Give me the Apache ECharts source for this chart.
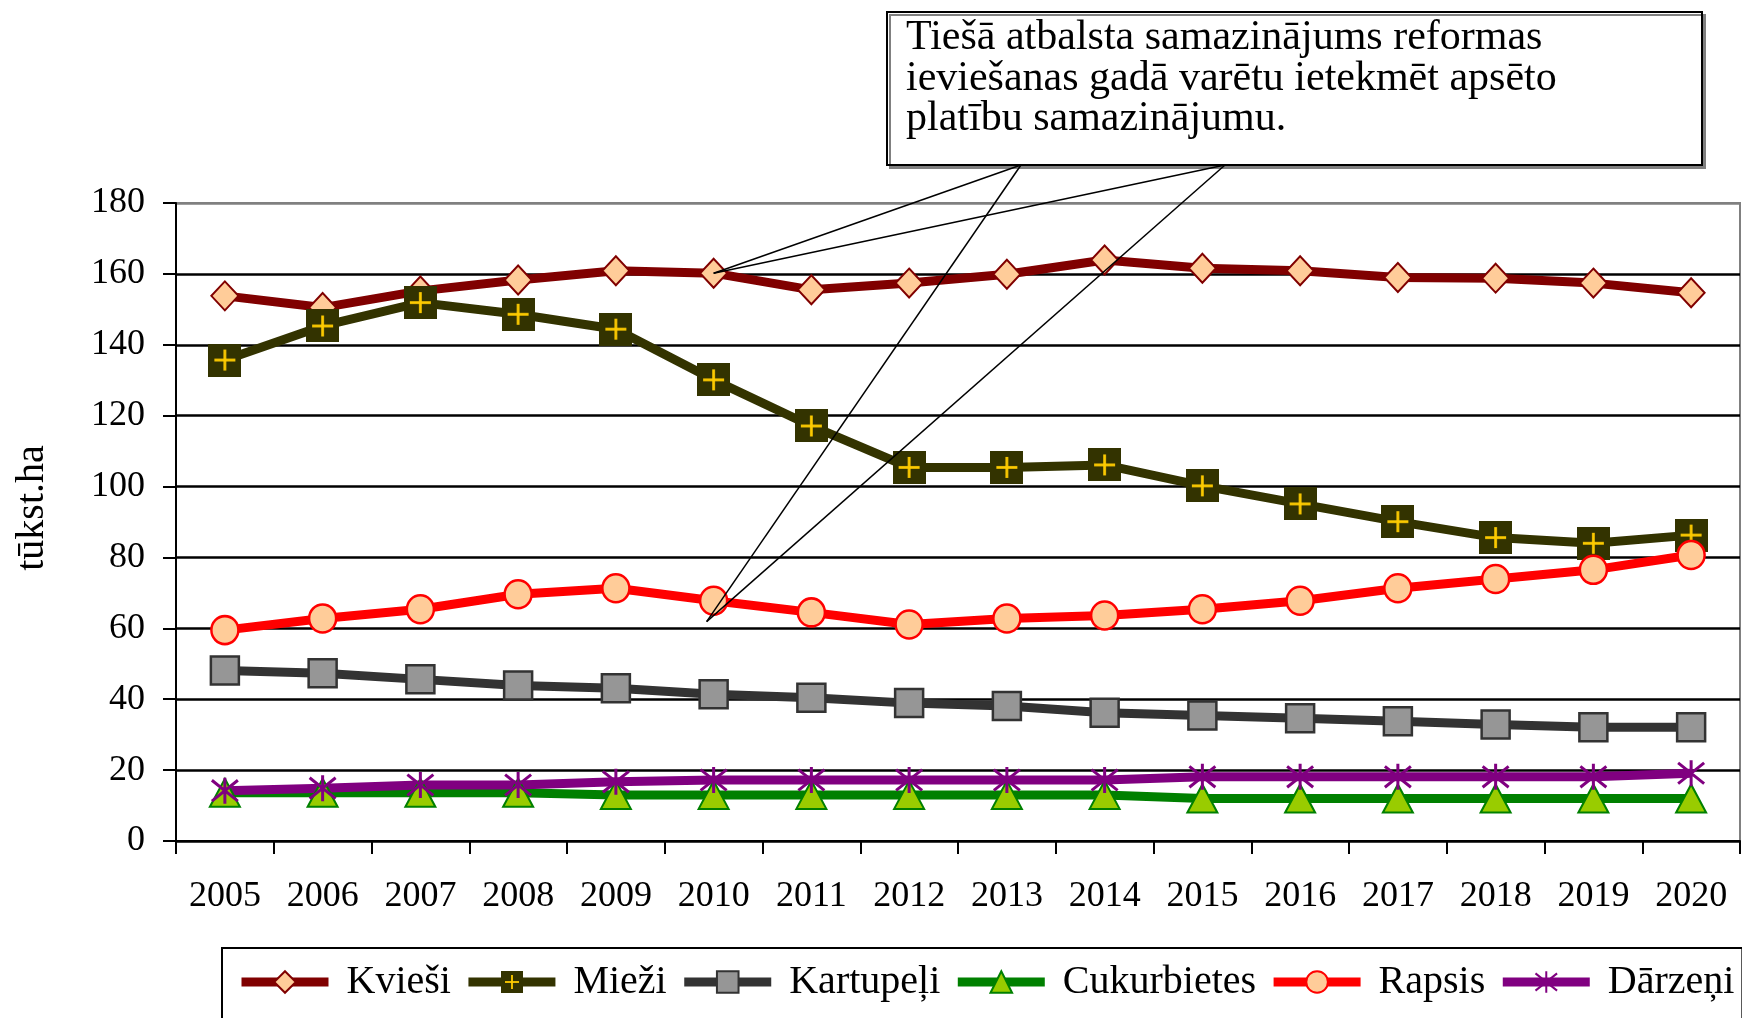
<!DOCTYPE html>
<html>
<head>
<meta charset="utf-8">
<script src="https://cdn.jsdelivr.net/npm/echarts@6/dist/echarts.min.js"></script>
<style>
  html, body { margin: 0; padding: 0; background: #fff; }
  #chart { width: 1742px; height: 1018px; }
</style>
</head>
<body>
<div id="chart"></div>
<script>
// data (tūkst. ha)
const years = ['2005', '2006', '2007', '2008', '2009', '2010', '2011', '2012',
  '2013', '2014', '2015', '2016', '2017', '2018', '2019', '2020'];
const kviesi = [153.8, 150.5, 155.2, 158.3, 160.9, 160.2, 155.5, 157.4, 159.9, 163.9, 161.6, 160.9, 159.0, 158.8, 157.4, 154.7];
const miezi = [135.7, 145.3, 151.9, 148.6, 144.4, 130.1, 117.1, 105.4, 105.4, 106.1, 100.2, 95.1, 90.1, 85.6, 84.0, 86.3];
const kartupeli = [48.1, 47.3, 45.6, 43.9, 43.1, 41.4, 40.4, 38.9, 38.1, 36.2, 35.4, 34.6, 33.8, 32.9, 32.1, 32.1];
const cukurbietes = [13.6, 13.6, 13.6, 13.6, 13.0, 13.0, 13.0, 13.0, 13.0, 13.0, 12.0, 12.0, 12.0, 12.0, 12.0, 12.0];
const rapsis = [59.5, 62.8, 65.4, 69.6, 71.3, 67.8, 64.5, 61.1, 62.8, 63.6, 65.4, 67.8, 71.3, 73.9, 76.5, 80.7];
const darzeni = [14.2, 14.9, 15.8, 15.8, 16.7, 17.2, 17.2, 17.2, 17.2, 17.2, 18.1, 18.1, 18.1, 18.1, 18.1, 19.1];
const seriesNames = ['Kvieši', 'Mieži', 'Kartupeļi', 'Cukurbietes', 'Rapsis', 'Dārzeņi'];
const calloutText = 'Tiešā atbalsta samazinājums reformas\nieviešanas gadā varētu ietekmēt apsēto\nplatību samazinājumu.';
const calloutYear = '2010';

const FONT = "'Liberation Serif', 'Times New Roman', serif";

// olive square with a yellow plus (Mieži marker)
const makePlusSquare = () => {
  const c = document.createElement('canvas');
  c.width = 66;
  c.height = 66;
  const ctx = c.getContext('2d');
  ctx.fillStyle = '#333300';
  ctx.fillRect(0, 0, 66, 66);
  ctx.strokeStyle = '#FFCC00';
  ctx.lineWidth = 5.5;
  ctx.beginPath();
  ctx.moveTo(33, 12); ctx.lineTo(33, 54);
  ctx.moveTo(12, 33); ctx.lineTo(54, 33);
  ctx.stroke();
  return 'image://' + c.toDataURL();
};

const starPath = 'path://M2,2L18,18M18,2L2,18M10,0L10,20';

const chart = echarts.init(document.getElementById('chart'));

const lineSeries = (name, data, color, symbol, size, fill, border, borderWidth) => ({
  name: name,
  type: 'line',
  data: data,
  symbol: symbol,
  symbolSize: size,
  lineStyle: { color: color, width: 9 },
  itemStyle: { color: fill, borderColor: border, borderWidth: borderWidth },
  emphasis: { disabled: true }
});

const option = {
  animation: false,
  textStyle: { fontFamily: FONT },
  grid: {
    left: 176,
    right: 2,
    top: 203,
    bottom: 177,
    show: true,
    borderColor: '#808080',
    borderWidth: 2,
    outerBoundsMode: 'none'
  },
  legend: {
    data: seriesNames,
    left: 222,
    top: 948,
    width: 1700,
    padding: [14, 8, 40, 15],
    borderColor: '#000',
    borderWidth: 2,
    itemWidth: 87,
    itemHeight: 27,
    itemGap: 13,
    lineStyle: { width: 9 },
    textStyle: { fontFamily: FONT, fontSize: 40, color: '#000', padding: [0, 0, 0, 13] }
  },
  xAxis: {
    type: 'category',
    data: years,
    boundaryGap: true,
    axisLine: { lineStyle: { color: '#000', width: 2 } },
    axisTick: { show: true, length: 13, lineStyle: { color: '#000', width: 2 } },
    axisLabel: { color: '#000', fontFamily: FONT, fontSize: 36, margin: 38, interval: 0 },
    splitLine: { show: false }
  },
  yAxis: {
    type: 'value',
    min: 0,
    max: 180,
    interval: 20,
    name: 'tūkst.ha',
    nameLocation: 'middle',
    nameRotate: 90,
    nameGap: 124,
    nameTextStyle: { color: '#000', fontFamily: FONT, fontSize: 40, padding: [0, 0, 0, 28] },
    axisLine: { show: true, lineStyle: { color: '#000', width: 2 } },
    axisTick: { show: true, length: 13, lineStyle: { color: '#000', width: 2 } },
    axisLabel: { color: '#000', fontFamily: FONT, fontSize: 36, margin: 31 },
    splitLine: {
      show: true,
      lineStyle: {
        color: ['#000', '#000', '#000', '#000', '#000', '#000', '#000', '#000', '#000', '#808080'],
        width: 2.5
      }
    }
  },
  series: [
    lineSeries('Kvieši', kviesi, '#800000', 'diamond', [27, 29], '#FFCC99', '#800000', 2),
    lineSeries('Mieži', miezi, '#333300', makePlusSquare(), 33, '#333300', '#333300', 0),
    lineSeries('Kartupeļi', kartupeli, '#333333', 'rect', 28, '#969696', '#333333', 2.5),
    lineSeries('Cukurbietes', cukurbietes, '#008000', 'triangle', [30, 28], '#99CC00', '#008000', 2),
    lineSeries('Rapsis', rapsis, '#FF0000', 'circle', [27, 28], '#FFCC99', '#FF0000', 2.5),
    lineSeries('Dārzeņi', darzeni, '#800080', starPath, 26, '#800080', '#800080', 3)
  ]
};

chart.setOption(option);

// callout box with pointers to the 2010 points of Kvieši and Rapsis
const yearIdx = years.indexOf(calloutYear);
const pKv = chart.convertToPixel({ gridIndex: 0 }, [yearIdx, kviesi[yearIdx]]);
const pRa = chart.convertToPixel({ gridIndex: 0 }, [yearIdx, rapsis[yearIdx]]);
const boxBottom = 165;
const bases = [1021, 1225];
const pointerLines = [];
bases.forEach((bx) => {
  [[pKv[0], pKv[1]], [pRa[0] - 7, pRa[1] + 21]].forEach((t) => {
    pointerLines.push({
      type: 'line',
      z: 100,
      shape: { x1: bx, y1: boxBottom, x2: t[0], y2: t[1] },
      style: { stroke: '#000', lineWidth: 1.5 }
    });
  });
});

chart.setOption({
  graphic: [
    {
      type: 'rect',
      z: 100,
      shape: { x: 887, y: 12, width: 815, height: boxBottom - 12 },
      style: {
        fill: '#fff',
        stroke: '#000',
        lineWidth: 2,
        shadowColor: '#808080',
        shadowOffsetX: 3,
        shadowOffsetY: 3,
        shadowBlur: 0
      }
    },
    {
      type: 'text',
      z: 101,
      x: 906,
      y: 18,
      style: {
        text: calloutText,
        font: '42px ' + FONT,
        fill: '#000',
        lineHeight: 40.5
      }
    }
  ].concat(pointerLines)
});

window.addEventListener('resize', () => chart.resize());
</script>
</body>
</html>
